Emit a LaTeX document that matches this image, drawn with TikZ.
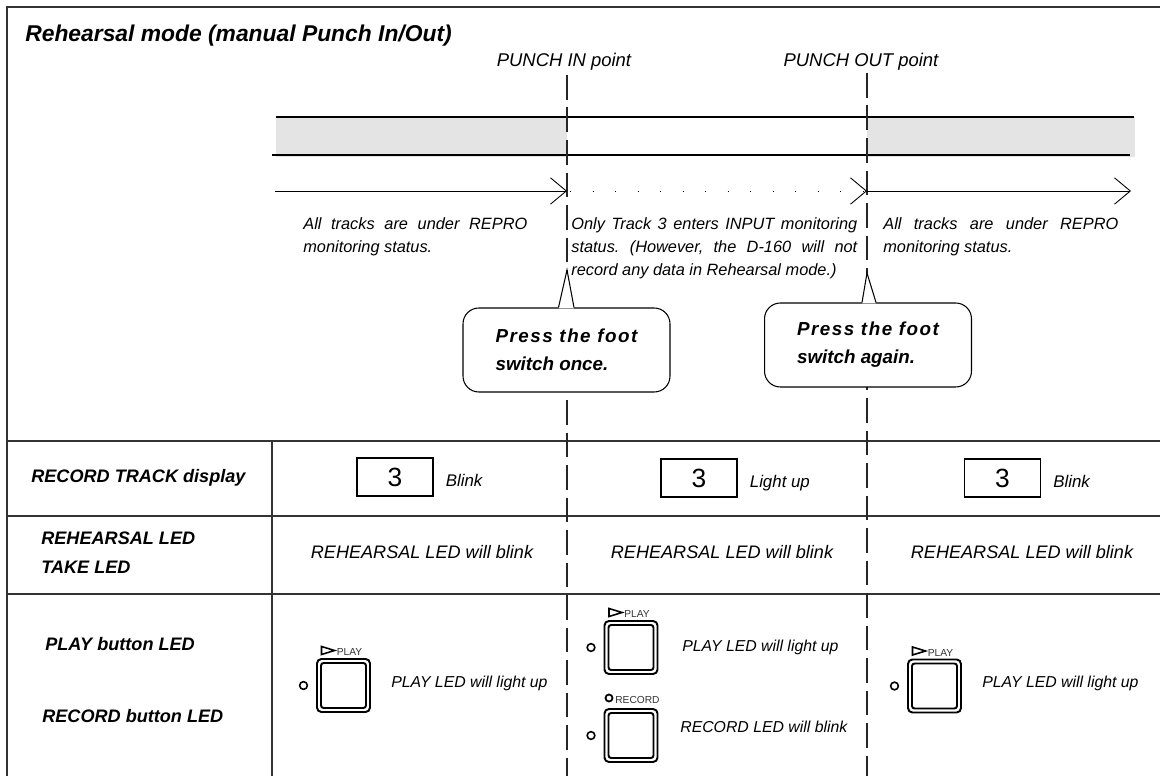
\documentclass[tikz,border=0pt]{standalone}
\usepackage{fontspec}
\setmainfont{Liberation Sans}
\usetikzlibrary{arrows.meta,positioning,calc}

\definecolor{bandgray}{HTML}{E4E4E4}
\frenchspacing

\begin{document}
\begin{tikzpicture}[
    x=0.02cm, y=-0.02cm,
    frameline/.style={draw=black!80, line width=0.6pt},
    punchline/.style={draw=black!85, line width=0.6pt, dash pattern=on 14pt off 4.5pt},
    timearrow/.style={line width=0.5pt, -{Straight Barb[length=9pt, width=15pt]}},
    pointlabel/.style={font=\fontsize{10.5}{12}\selectfont\itshape, anchor=base, inner sep=0pt},
    note/.style={font=\fontsize{9.3}{13}\selectfont\itshape, align=justify, anchor=base west, inner sep=0pt},
    callout/.style={draw, line width=0.6pt, fill=white, rounded corners=9pt, minimum width=4.14cm, minimum height=1.68cm, align=left, font=\fontsize{10.7}{16}\selectfont\bfseries\itshape},
    rowlabel/.style={font=\fontsize{10.3}{12}\selectfont\bfseries\itshape, anchor=base west, inner sep=0pt},
    cell/.style={font=\fontsize{10.3}{12}\selectfont\itshape, anchor=base, inner sep=0pt},
    trackbox/.style={draw, line width=0.6pt, minimum width=1.52cm, minimum height=0.76cm, inner sep=0pt, font=\fontsize{15}{15}\selectfont},
    trackstate/.style={font=\fontsize{9.6}{12}\selectfont\itshape, inner sep=0pt},
    ledtext/.style={font=\fontsize{9}{11}\selectfont\itshape, anchor=base west, inner sep=0pt},
    keylabel/.style={font=\fontsize{5.8}{6}\selectfont, text=black!80, anchor=base west, inner sep=0pt},
    keybody/.pic={
      \draw[line width=1.1pt, rounded corners=2.5pt] (-26.5,-26.5) rectangle (26.5,26.5);
      \draw[line width=1.1pt, rounded corners=1.5pt] (-22.5,-22.5) rectangle (22.5,22.5);
      \draw[line width=0.9pt] (-40,0) circle[radius=2.2pt];
    },
    playkey/.pic={
      \pic {keybody};
      \draw[line width=0.9pt] (-22,-39) -- (-9,-35) -- (-22,-31) -- cycle;
      \node[keylabel] (-lbl) at (-7,-29.5) {PLAY};
    },
    reckey/.pic={
      \pic {keybody};
      \draw[line width=1pt] (-22,-37.5) circle[radius=2pt];
      \node[keylabel] (-lbl) at (-16,-31.5) {RECORD};
    }
]
\useasboundingbox (0,0) rectangle (1160,776);

% --- Frame and table rules ---
\draw[frameline] (1160,7) -- (7,7) -- (7,776);
\foreach \y in {441,516,594}{
  \draw[frameline] (7,\y) -- (1160,\y);
}
\draw[frameline] (272,441) -- (272,776);

% --- Title and punch points ---
\node[font=\fontsize{13}{15}\selectfont\bfseries\itshape, anchor=base west, inner sep=0pt] (title) at (25,42) {Rehearsal mode (manual Punch In/Out)};
\node[pointlabel] (inlabel) at (564,67) {PUNCH IN point};
\node[pointlabel] (outlabel) at (861,67) {PUNCH OUT point};

% --- Track band (gray = REPRO) ---
\fill[bandgray] (276,117) rectangle (567,157);
\fill[bandgray] (867,117) rectangle (1135,157);
\draw[line width=0.6pt] (276,117) -- (1134,117);
\draw[line width=0.6pt] (272,155) -- (1130,155);

% --- Punch lines ---
\coordinate (intop) at (567,75);
\coordinate (inbot) at (567,776);
\coordinate (outtop) at (867,73);
\coordinate (outbot) at (867,776);
\draw[punchline] (intop) -- (inbot);
\draw[punchline] (outtop) -- (outbot);

% --- Time line ---
\coordinate (tstart) at (275,191);
\coordinate (pin) at (567,191);
\coordinate (pout) at (867,191);
\coordinate (tend) at (1131,191);
\draw[timearrow] (tstart) -- (pin);
\draw[timearrow, dash pattern=on 0.6pt off 12.2pt, dash phase=11pt] (pin) -- (pout);
\draw[timearrow] (pout) -- (tend);

% --- Monitoring notes ---
\node[note, text width=4.48cm] (noteA) at (303,230) {All tracks are under REPRO\linebreak monitoring status.};
\node[note, text width=5.72cm] (noteB) at (571,230) {Only Track 3 enters INPUT monitoring\linebreak status. (However, the D-160 will not\linebreak record any data in Rehearsal mode.)};
\node[note, text width=4.7cm] (noteC) at (883,230) {All tracks are under REPRO\linebreak monitoring status.};

% --- Foot switch callouts ---
\node[callout] (footA) at (566.5,350) {{\addfontfeatures{LetterSpace=8}Press the foot}\\switch once.};
\fill[white] ($(footA.north)+(-8,1)$) -- (567,270) -- ($(footA.north)+(7.5,1)$) -- cycle;
\draw[line width=0.6pt] ($(footA.north)+(-8,0)$) -- (567,270) -- ($(footA.north)+(7.5,0)$);

\node[callout] (footB) at (868,345) {{\addfontfeatures{LetterSpace=8}Press the foot}\\switch again.};
\fill[white] ($(footB.north)+(-6,1)$) -- (867,273) -- ($(footB.north)+(8,1)$) -- cycle;
\draw[line width=0.6pt] ($(footB.north)+(-6,0)$) -- (867,273) -- ($(footB.north)+(8,0)$);

% --- Row 1: RECORD TRACK display ---
\node[rowlabel] (trklabel) at (31,483) {RECORD TRACK display};
\node[trackbox] (trkA) at (395,477) {3};
\node[trackbox] (trkB) at (699,478) {3};
\node[trackbox] (trkC) at (1002.5,478) {3};
\node[trackstate, base right=0.24cm of trkA] (stA) {Blink};
\node[trackstate, base right=0.24cm of trkB] (stB) {Light up};
\node[trackstate, base right=0.24cm of trkC] (stC) {Blink};

% --- Row 2: REHEARSAL / TAKE LED ---
\node[rowlabel] (rehlabel) at (41,545) {REHEARSAL LED};
\node[rowlabel] (takelabel) at (41,574) {TAKE LED};
\foreach \x/\n in {422/rehA, 722/rehB, 1022/rehC}{
  \node[cell] (\n) at (\x,559) {REHEARSAL LED will blink};
}

% --- Row 3: PLAY / RECORD button LED ---
\node[rowlabel] (playlabel) at (45,651) {PLAY button LED};
\node[rowlabel] (reclabel) at (42,723) {RECORD button LED};
\pic (keyA) at (343.5,685.5) {playkey};
\node[ledtext] (ledA) at (391,687) {PLAY LED will light up};
\pic (keyB) at (631,647.5) {playkey};
\node[ledtext] (ledB) at (682,652) {PLAY LED will light up};
\pic (keyC) at (631,735.5) {reckey};
\node[ledtext] (ledC) at (680,732) {RECORD LED will blink};
\pic (keyD) at (934.5,686) {playkey};
\node[ledtext] (ledD) at (982,687) {PLAY LED will light up};

\end{tikzpicture}
\end{document}
